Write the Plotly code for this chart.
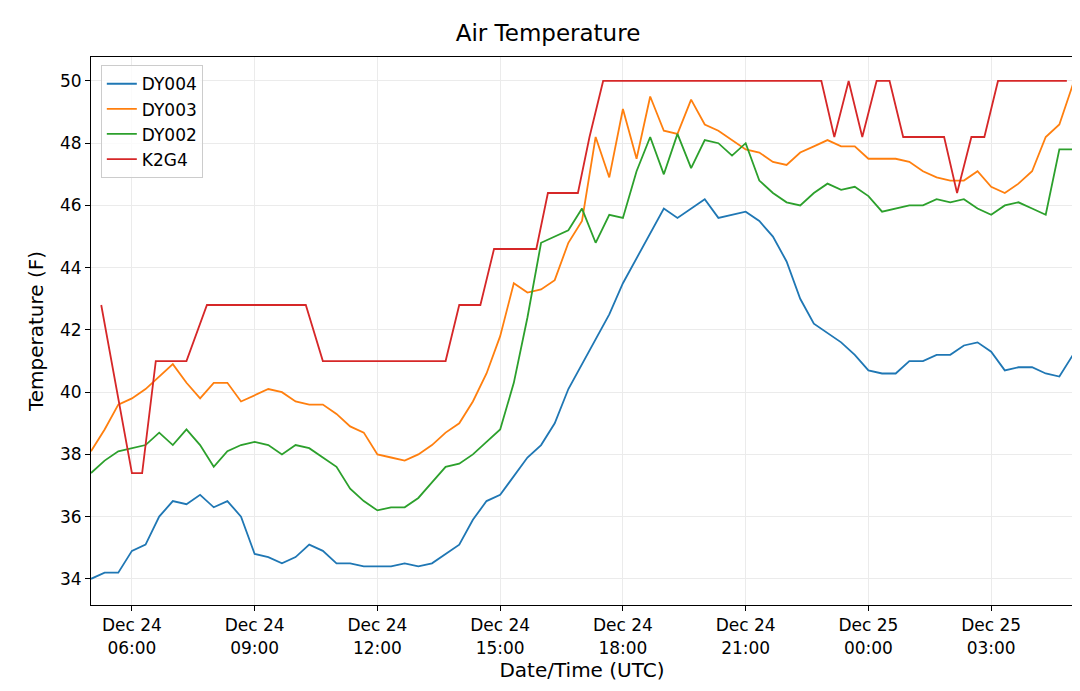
import pandas as pd
import plotly.graph_objects as go

dy004 = [34.0,34.2,34.2,34.9,35.1,36.0,36.5,36.4,36.7,36.3,36.5,36.0,34.8,34.7,34.5,34.7,35.1,34.9,34.5,34.5,34.4,34.4,34.4,34.5,34.4,34.5,34.8,35.1,35.9,36.5,36.7,37.3,37.9,38.3,39.0,40.1,40.9,41.7,42.5,43.5,44.3,45.1,45.9,45.6,45.9,46.2,45.6,45.7,45.8,45.5,45.0,44.2,43.0,42.2,41.9,41.6,41.2,40.7,40.6,40.6,41.0,41.0,41.2,41.2,41.5,41.6,41.3,40.7,40.8,40.8,40.6,40.5,41.2]
dy003 = [38.1,38.8,39.6,39.8,40.1,40.5,40.9,40.3,39.8,40.3,40.3,39.7,39.9,40.1,40.0,39.7,39.6,39.6,39.3,38.9,38.7,38.0,37.9,37.8,38.0,38.3,38.7,39.0,39.7,40.6,41.8,43.5,43.2,43.3,43.6,44.8,45.5,48.2,46.9,49.1,47.5,49.5,48.4,48.3,49.4,48.6,48.4,48.1,47.8,47.7,47.4,47.3,47.7,47.9,48.1,47.9,47.9,47.5,47.5,47.5,47.4,47.1,46.9,46.8,46.8,47.1,46.6,46.4,46.7,47.1,48.2,48.6,49.9]
dy002 = [37.4,37.8,38.1,38.2,38.3,38.7,38.3,38.8,38.3,37.6,38.1,38.3,38.4,38.3,38.0,38.3,38.2,37.9,37.6,36.9,36.5,36.2,36.3,36.3,36.6,37.1,37.6,37.7,38.0,38.4,38.8,40.3,42.4,44.8,45.0,45.2,45.9,44.8,45.7,45.6,47.1,48.2,47.0,48.3,47.2,48.1,48.0,47.6,48.0,46.8,46.4,46.1,46.0,46.4,46.7,46.5,46.6,46.3,45.8,45.9,46.0,46.0,46.2,46.1,46.2,45.9,45.7,46.0,46.1,45.9,45.7,47.8,47.8]
k2g4_times = ["2023-12-24 05:15","2023-12-24 06:00","2023-12-24 06:15","2023-12-24 06:35","2023-12-24 07:20","2023-12-24 07:50","2023-12-24 10:15","2023-12-24 10:40","2023-12-24 13:40","2023-12-24 14:00","2023-12-24 14:31","2023-12-24 14:51","2023-12-24 15:53","2023-12-24 16:10","2023-12-24 16:54","2023-12-24 17:11","2023-12-24 17:31","2023-12-24 22:51","2023-12-24 23:10","2023-12-24 23:31","2023-12-24 23:51","2023-12-25 00:12","2023-12-25 00:31","2023-12-25 00:51","2023-12-25 01:51","2023-12-25 02:10","2023-12-25 02:31","2023-12-25 02:50","2023-12-25 03:10","2023-12-25 04:51"]
k2g4 = [42.8,37.4,37.4,41.0,41.0,42.8,42.8,41.0,41.0,42.8,42.8,44.6,44.6,46.4,46.4,48.2,50,50,48.2,50,48.2,50,50,48.2,48.2,46.4,48.2,48.2,50,50]

times = pd.date_range("2023-12-24 05:00", periods=len(dy004), freq="20min")
tick_vals = pd.date_range("2023-12-24 06:00", periods=8, freq="3h")
tick_text = [f"{t.strftime('%b')} {t.day}<br>{t.strftime('%H:%M')}" for t in tick_vals]

fig = go.Figure()
for name, ys, c in [("DY004", dy004, "#1f77b4"), ("DY003", dy003, "#ff7f0e"), ("DY002", dy002, "#2ca02c")]:
    fig.add_trace(go.Scatter(x=times, y=ys, name=name, mode="lines", line=dict(color=c, width=1.8)))
fig.add_trace(go.Scatter(x=pd.to_datetime(k2g4_times), y=k2g4, name="K2G4", mode="lines", line=dict(color="#d62728", width=1.8)))

ax = dict(showline=True, linecolor="black", mirror=True, ticks="outside", ticklen=5, tickcolor="black",
          showgrid=True, gridcolor="#ebebeb", zeroline=False, tickfont=dict(size=17), automargin=False)
fig.update_layout(
    width=1080, height=691, plot_bgcolor="white", paper_bgcolor="white",
    font=dict(family="DejaVu Sans", color="black"),
    title=dict(text="Air Temperature", x=0.5, xanchor="center", y=0.975, font=dict(size=23)),
    margin=dict(l=83, r=15, t=49, b=94),
    legend=dict(x=0.01, y=0.985, xanchor="left", yanchor="top", bordercolor="#cccccc", borderwidth=1, font=dict(size=17), bgcolor="rgba(255,255,255,0.8)"),
    xaxis=dict(ax, range=["2023-12-24 05:00", "2023-12-25 05:00"], tickvals=tick_vals, ticktext=tick_text,
               title=dict(text="Date/Time (UTC)", font=dict(size=20), standoff=4)),
    yaxis=dict(ax, range=[33.16, 50.77], dtick=2, title=dict(text="Temperature (F)", font=dict(size=20), standoff=10)),
)
fig.write_html("out.html")
